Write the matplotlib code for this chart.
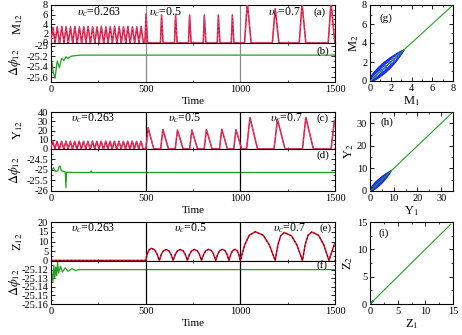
import numpy as np
import matplotlib.pyplot as plt
from matplotlib.patches import Ellipse
from matplotlib.ticker import AutoMinorLocator

plt.rcParams["font.family"] = ["Liberation Serif", "DejaVu Serif"]
plt.rcParams["mathtext.fontset"] = "stix"
plt.rcParams["font.size"] = 7.5

# ---------------------------------------------------------------
# Data
# ---------------------------------------------------------------
regimes = [r"$\upsilon_c$=0.263", r"$\upsilon_c$=0.5", r"$\upsilon_c$=0.7"]
switch_times = [500, 1000]

# (a) M12: zig-zag (0-500), narrow spikes (500-1000), wider spikes (1000-1500)
m_zig_t = [10, 33, 57, 80, 103, 126, 150, 173, 196, 220, 243,
           266, 290, 313, 336, 360, 383, 406, 430, 453, 476]
m_zig_h = [3.3, 3.4, 3.5, 3.4, 3.4, 3.5, 3.4, 3.4, 3.5, 3.4, 3.4,
           3.5, 3.4, 3.4, 3.5, 3.4, 3.4, 3.5, 3.4, 3.4, 3.5]
m_spk_t = [502, 584, 658, 732, 810, 884, 958]
m_spk_h = [6.1, 5.9, 5.9, 5.9, 5.9, 5.9, 5.9]
m_big_t = [1037, 1184, 1326, 1479]
m_big_h = [8.6, 7.2, 8.3, 8.6]

# (b) phase difference
b_t = [0, 4, 12, 21, 33, 44, 56, 68, 79, 89, 107, 130, 160, 1500]
b_v = [-25.25, -25.3, -25.5, -25.62, -25.29, -25.42, -25.24, -25.28,
       -25.21, -25.24, -25.2, -25.19, -25.18, -25.18]

# (c) Y12
y_zig_t = [9, 32, 56, 79, 102, 125, 149, 172, 195, 219, 242,
           265, 289, 312, 335, 359, 382, 405, 429, 452, 475]
y_zig_h = [8.5, 8.3, 8.4, 8.5, 8.3, 8.4, 8.5, 8.3, 8.4, 8.5, 8.3,
           8.4, 8.5, 8.3, 8.4, 8.5, 8.3, 8.4, 8.5, 8.3, 8.4]
y_spk_t = [513, 591, 668, 744, 821, 902, 977]
y_spk_h = [23, 21, 20.5, 20.5, 21, 21.5, 21]
y_big_t = [1051, 1196, 1346, 1497]
y_big_h = [34, 32, 34, 31]

# (d) phase difference
d_t = [0, 8, 14, 19, 24, 36, 44, 49, 55, 66, 75, 79, 82, 90, 120, 208, 212, 216, 1500]
d_v = [-25.0, -24.98, -24.9, -25.05, -25.08, -25.06, -24.84, -24.84, -25.05,
       -25.08, -25.1, -25.85, -25.12, -25.12, -25.13, -25.13, -25.05, -25.13, -25.13]

# (e) Z12: flat (0-500), humps (500-1000), large humps (1000-1500)
z_floor = 0.3
z_min_2 = [500, 572, 645, 720, 795, 870, 940, 1000]
z_pk_2 = [530, 608, 683, 758, 833, 905, 972]
z_h_2 = [6.2, 5.6, 5.6, 5.6, 5.7, 5.7, 5.7]
z_min_3 = [1000, 1184, 1328, 1468, 1640]
z_pk_3 = [1079, 1232, 1377, 1560]
z_h_3 = [14.7, 14.3, 14.6, 14.5]

# (f) phase difference
f_t = [0, 5, 10, 15, 20, 25, 30, 35, 40, 50, 60, 75, 90, 110, 130, 150, 1500]
f_v = [-25.12, -25.125, -25.134, -25.115, -25.13, -25.117, -25.127, -25.111,
       -25.124, -25.116, -25.123, -25.118, -25.122, -25.119, -25.121, -25.12, -25.12]

# (g)-(i) synchronisation diagonals and the blue loop bundles near origin
g_line = [0, 7.9]
g_loop_len = [3.3, 3.2, 3.0, 2.8, 2.6, 2.3, 2.0, 1.6, 1.2]
g_loop_w = [0.2, 0.3, 0.38, 0.45, 0.42, 0.38, 0.32, 0.25, 0.18]
h_line = [0, 34.5]
h_loop_len = [9.0, 8.7, 8.2, 7.6, 6.9, 6.0, 5.0, 3.8]
h_loop_w = [0.5, 0.8, 1.0, 1.15, 1.05, 0.9, 0.7, 0.5]
i_line = [0, 14.6]
i_loop_len = [0.6, 0.45]
i_loop_w = [0.08, 0.1]

HUMP_X = [0.0, 0.3, 0.6, 1.0]
HUMP_Y = [0.0, 0.55, 0.88, 1.0]

RED = "#e8102a"
GREEN = "#1fa31f"
BLUE = "#1a2bff"


def pulses(times, heights, rise, fall, floor=0.0):
    t, v = [], []
    for tp, h in zip(times, heights):
        t += [tp - rise, tp, tp + fall]
        v += [floor, h, floor]
    return t, v


def humps(mins, peaks, heights, floor):
    t, v = [], []
    for a, p, b, h in zip(mins[:-1], peaks, mins[1:], heights):
        for fx, fy in zip(HUMP_X, HUMP_Y):
            t.append(a + fx * (p - a))
            v.append(floor + fy * h)
        for fx, fy in zip(HUMP_X[::-1][1:], HUMP_Y[::-1][1:]):
            t.append(b - fx * (b - p))
            v.append(floor + fy * h)
    return t, v


def series(*parts, start=0.0, end_floor=0.0):
    t, v = [0], [start]
    for pt, pv in parts:
        t += list(pt)
        v += list(pv)
    t.append(1500)
    v.append(end_floor)
    return np.array(t), np.array(v)


m_t, m_v = series(pulses(m_zig_t, m_zig_h, 11.6, 11.6),
                  pulses(m_spk_t, m_spk_h, 6, 8),
                  pulses(m_big_t, m_big_h, 15, 20))
y_t, y_v = series(pulses(y_zig_t, y_zig_h, 11.6, 11.6),
                  pulses(y_spk_t, y_spk_h, 12, 30),
                  pulses(y_big_t, y_big_h, 18, 40), end_floor=0)
z_t, z_v = series(humps(z_min_2, z_pk_2, z_h_2, z_floor),
                  humps(z_min_3, z_pk_3, z_h_3, z_floor),
                  start=z_floor, end_floor=z_floor)

fig = plt.figure(figsize=(4.62, 3.35), dpi=100)

L, W = 51 / 462, 284 / 462
RL, RW = 370 / 462, 83 / 462


def box(top, bot):
    return 1 - bot / 335, (bot - top) / 335


def style(ax):
    ax.tick_params(direction="in", top=True, right=True, length=3, width=0.6, pad=2,
                   labelsize=7.5)
    ax.tick_params(which="minor", direction="in", top=True, right=True, length=1.6, width=0.5)
    for s in ax.spines.values():
        s.set_linewidth(0.8)


groups = [
    dict(top=(5, 43), bot=(43, 82), t=m_t, v=m_v, ylim=(0, 8), yt=[0, 2, 4, 6, 8],
         ylab=r"M$_{12}$", pt=b_t, pv=b_v, plim=(-25.69, -24.95),
         pticks=[-25.6, -25.4, -25.2, -25], plab=["-25.6", "-25.4", "-25.2", "-25"],
         ty=6.5, tx=[135, 515, 1145], lab="(a)", lab2="(b)", labpos=(1385, 6.4),
         lab2y=-25.1, vcol="#8c8c8c", dash="#c050a0"),
    dict(top=(112, 149), bot=(149, 191), t=y_t, v=y_v, ylim=(0, 40), yt=[0, 10, 20, 30, 40],
         ylab=r"Y$_{12}$", pt=d_t, pv=d_v, plim=(-26, -24.03),
         pticks=[-26, -25.5, -25, -24.5], plab=["-26", "-25.5", "-25", "-24.5"],
         ty=33.5, tx=[105, 620, 1155], lab="(c)", lab2="(d)", labpos=(1400, 33),
         lab2y=-24.3, vcol="black", dash="#c050a0"),
    dict(top=(222, 261), bot=(261, 304), t=z_t, v=z_v, ylim=(0, 20), yt=[0, 5, 10, 15, 20],
         ylab=r"Z$_{12}$", pt=f_t, pv=f_v, plim=(-25.16, -25.11),
         pticks=[-25.16, -25.15, -25.14, -25.13, -25.12],
         plab=["-25.16", "-25.15", "-25.14", "-25.13", "-25.12"],
         ty=17, tx=[105, 650, 1170], lab="(e)", lab2="(f)", labpos=(1420, 17),
         lab2y=-25.1145, vcol="black", dash="#600010"),
]

for g in groups:
    b0, h0 = box(*g["top"])
    ax = fig.add_axes([L, b0, W, h0])
    ax.plot(g["t"], g["v"], color=RED, lw=1.1, zorder=3)
    ax.plot(g["t"], g["v"], color=g["dash"], lw=0.7, ls=(0, (2, 2)), zorder=4)
    for s in switch_times:
        ax.axvline(s, color=g["vcol"], lw=0.9, zorder=2)
    ax.set_xlim(0, 1500)
    ax.set_ylim(*g["ylim"])
    ax.set_yticks(g["yt"])
    ax.set_xticks([0, 500, 1000, 1500])
    ax.set_xticklabels([])
    ax.xaxis.set_minor_locator(AutoMinorLocator(2))
    ax.yaxis.set_minor_locator(AutoMinorLocator(2))
    style(ax)
    ax.set_ylabel(g["ylab"], fontsize=9, labelpad=1)
    ax.yaxis.set_label_coords(-0.09, 0.5)
    for x, txt in zip(g["tx"], regimes):
        ax.text(x, g["ty"], txt, fontsize=8.5, va="center", ha="left")
    ax.text(*g["labpos"], g["lab"], fontsize=8, va="center", ha="left")

    b1, h1 = box(*g["bot"])
    bx = fig.add_axes([L, b1, W, h1])
    bx.plot(g["pt"], g["pv"], color=GREEN, lw=0.9)
    for s in switch_times:
        bx.axvline(s, color=g["vcol"], lw=0.9)
    bx.set_xlim(0, 1500)
    bx.set_ylim(*g["plim"])
    bx.set_yticks(g["pticks"])
    bx.set_yticklabels(g["plab"])
    bx.set_xticks([0, 500, 1000, 1500])
    bx.xaxis.set_minor_locator(AutoMinorLocator(2))
    bx.yaxis.set_minor_locator(AutoMinorLocator(2))
    style(bx)
    bx.set_ylabel(r"$\Delta\phi_{12}$", fontsize=9, labelpad=1)
    bx.yaxis.set_label_coords(-0.1, 0.5)
    bx.set_xlabel("Time", fontsize=8, labelpad=2)
    bx.text(1400, g["lab2y"], g["lab2"], fontsize=8, va="center", ha="left")

right = [
    dict(top=5, bot=81, line=g_line, lens=g_loop_len, ws=g_loop_w, lim=8, ticks=[0, 2, 4, 6, 8],
         xl=r"M$_1$", yl=r"M$_2$", lab="(g)", lp=(0.9, 6.6)),
    dict(top=112, bot=191, line=h_line, lens=h_loop_len, ws=h_loop_w, lim=35,
         ticks=[0, 10, 20, 30], xl=r"Y$_1$", yl=r"Y$_2$", lab="(h)", lp=(4.5, 30.5)),
    dict(top=222, bot=304, line=i_line, lens=i_loop_len, ws=i_loop_w, lim=15,
         ticks=[0, 5, 10, 15], xl=r"Z$_1$", yl=r"Z$_2$", lab="(i)", lp=(1.5, 13)),
]

for r in right:
    b0, h0 = box(r["top"], r["bot"])
    ax = fig.add_axes([RL, b0, RW, h0])
    for ln, w in zip(r["lens"], r["ws"]):
        ax.add_patch(Ellipse((ln / 2, ln / 2), ln * np.sqrt(2), 2 * w, angle=45,
                             fill=False, ec=BLUE, lw=0.6, zorder=2))
    ax.plot([0, r["lens"][0]], [0, r["lens"][0]], color="#10108a", lw=0.8, zorder=3)
    ax.plot(r["line"], r["line"], color=GREEN, lw=0.8, zorder=4)
    ax.set_xlim(0, r["lim"])
    ax.set_ylim(0, r["lim"])
    ax.set_xticks(r["ticks"])
    ax.set_yticks(r["ticks"])
    ax.xaxis.set_minor_locator(AutoMinorLocator(2))
    ax.yaxis.set_minor_locator(AutoMinorLocator(2))
    style(ax)
    ax.set_xlabel(r["xl"], fontsize=9, labelpad=1)
    ax.set_ylabel(r["yl"], fontsize=9, labelpad=1)
    ax.text(*r["lp"], r["lab"], fontsize=8, va="center", ha="left")

fig.savefig("out.png", dpi=100)
